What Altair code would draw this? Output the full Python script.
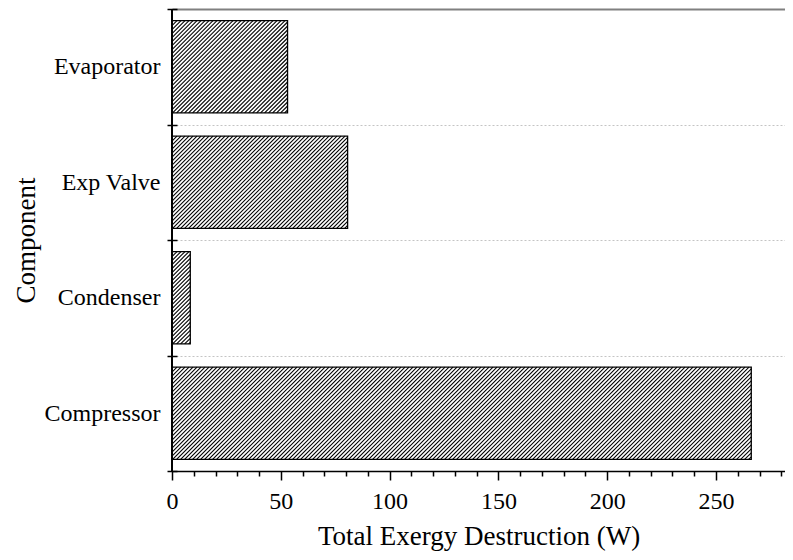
import altair as alt
import pandas as pd
import numpy as np

# ---- data ----
categories = ["Compressor", "Condenser", "Exp Valve", "Evaporator"]
values = [266.2, 8.4, 80.7, 53.1]
x_ticks = list(range(0, 290, 10))
x_label_step = 50
x_title = "Total Exergy Destruction (W)"
y_title = "Component"

# ---- layout ----
W, H = 613, 462
XMAX = 281.7
BAR_HALF = 0.4
HATCH_STEP = 4.0  # px between hatch lines (horizontal)
FONT = "Liberation Serif"

pos = list(range(len(categories)))
bars = pd.DataFrame({"component": categories, "value": values, "pos": pos})
bars["lo"] = bars["pos"] - BAR_HALF
bars["hi"] = bars["pos"] + BAR_HALF
bars["zero"] = 0.0

# hatch lines ("/" at 45 degrees in pixel space), clipped to each bar
kx = W / XMAX
ky = H / len(categories)
rows = []
for p, v in zip(pos, values):
    y0 = p - BAR_HALF
    hpx = 2 * BAR_HALF * ky
    vpx = v * kx
    for c in np.arange(-hpx + 1.0, vpx, HATCH_STEP):
        t0 = max(0.0, -c)
        t1 = min(hpx, vpx - c)
        if t1 > t0 + 0.3:
            rows.append({"hx": (c + t0) / kx, "hx2": (c + t1) / kx,
                         "hy": y0 + t0 / ky, "hy2": y0 + t1 / ky})
hatch = pd.DataFrame(rows)

ymin, ymax = -0.5, len(categories) - 0.5
y_vals = [ymin + 0.5 * k for k in range(2 * len(categories) + 1)]
label_expr = " : ".join(f"datum.value === {p} ? '{n}'" for p, n in zip(pos, categories)) + " : ''"
half = "datum.value % 1 !== 0"
top = f"datum.value === {ymax}"

x_scale = alt.Scale(domain=[0, XMAX], nice=False, zero=True)
y_scale = alt.Scale(domain=[ymin, ymax], nice=False, zero=False)

x_axis = alt.Axis(
    values=x_ticks,
    labelExpr=f"datum.value % {x_label_step} === 0 ? datum.label : ''",
    title=x_title, titleFontSize=27, titleFontWeight="normal", titleColor="black",
    titlePadding=10, titleFont=FONT,
    labelFontSize=24, labelColor="black", labelPadding=9, labelFlush=False, labelOverlap=False,
    labelFont=FONT,
    domainColor="black", domainWidth=1.5,
    tickColor="black", tickWidth=1.5,
    tickSize={"condition": {"test": f"datum.value % {x_label_step} === 0", "value": 9}, "value": 5},
    grid=False,
)

y_axis = alt.Axis(
    values=y_vals, labelExpr=label_expr,
    title=y_title, titleFontSize=27, titleFontWeight="normal", titleColor="black",
    titlePadding=4, titleFont=FONT,
    labelFontSize=24, labelColor="black", labelPadding=7, labelFlush=False, labelOverlap=False,
    labelFont=FONT,
    domain=False, offset=-5, tickSize=10, tickWidth=1.5, tickColor="black",
    tickOpacity={"condition": {"test": half, "value": 1}, "value": 0},
    grid=True,
    gridOpacity={"condition": {"test": half, "value": 1}, "value": 0},
    gridColor={"condition": {"test": top, "value": "#808080"}, "value": "#c4c4c4"},
    gridDash={"condition": {"test": top, "value": []}, "value": [2, 2]},
    gridWidth={"condition": {"test": top, "value": 2}, "value": 1},
)

base = alt.Chart(bars)

fill = base.mark_rect(fill="white", stroke=None).encode(
    x=alt.X("zero:Q", scale=x_scale, axis=x_axis),
    x2="value:Q",
    y=alt.Y("lo:Q", scale=y_scale, axis=y_axis),
    y2="hi:Q",
)

lines = alt.Chart(hatch).mark_rule(color="black", strokeWidth=1.1).encode(
    x=alt.X("hx:Q", scale=x_scale, axis=x_axis),
    x2="hx2:Q",
    y=alt.Y("hy:Q", scale=y_scale, axis=y_axis),
    y2="hy2:Q",
)

outline = base.mark_rect(fillOpacity=0, stroke="black", strokeWidth=1.3).encode(
    x=alt.X("zero:Q", scale=x_scale, axis=x_axis),
    x2="value:Q",
    y=alt.Y("lo:Q", scale=y_scale, axis=y_axis),
    y2="hi:Q",
)

yline = alt.Chart(bars).mark_rule(color="black", strokeWidth=1.5).encode(
    x=alt.X(datum=0, type="quantitative", scale=x_scale, axis=x_axis),
)

chart = alt.layer(fill, lines, outline, yline).properties(
    width=W, height=H,
    autosize=alt.AutoSizeParams(type="none"),
    padding={"left": 164, "top": 1, "right": 0, "bottom": 81},
).configure(font=FONT).configure_view(strokeWidth=0)

chart.save("out.html", embed_options={"renderer": "svg", "actions": False})
